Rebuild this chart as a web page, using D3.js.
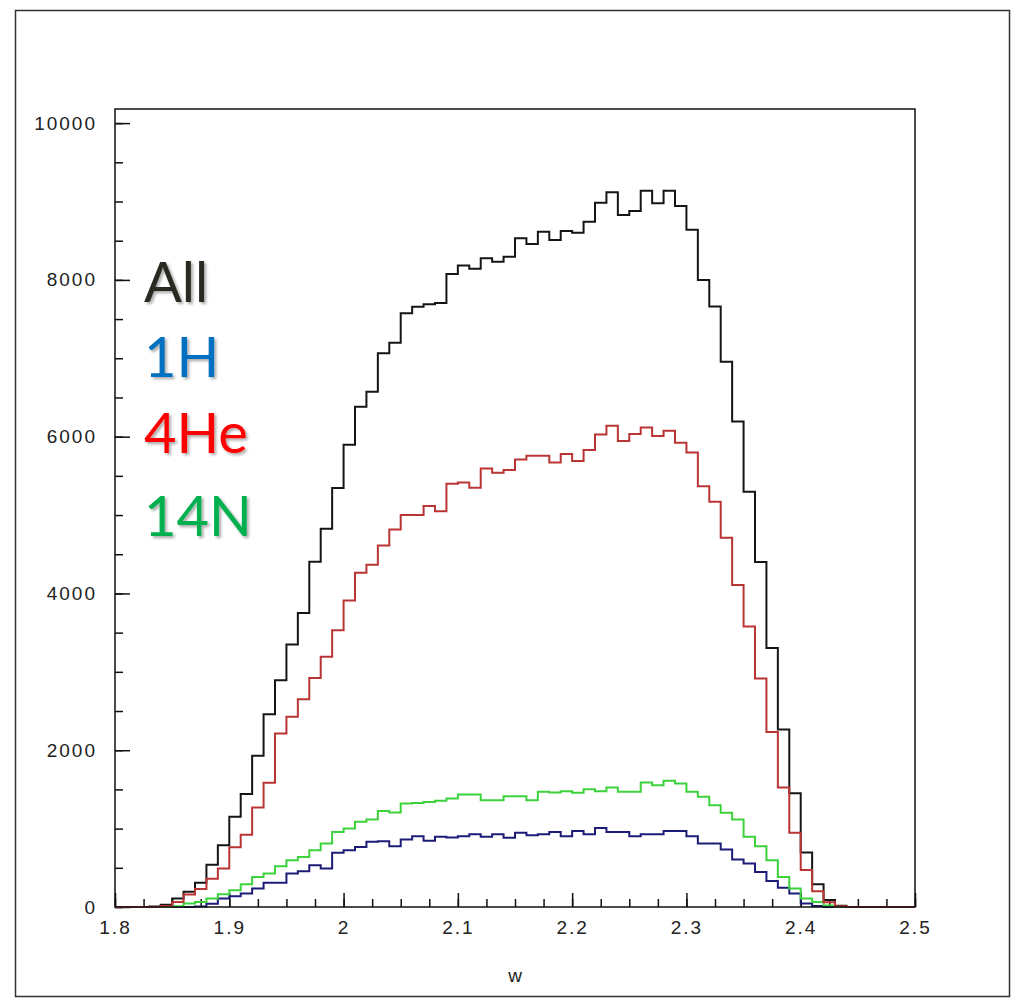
<!DOCTYPE html>
<html lang="en">
<head>
<meta charset="UTF-8">
<title>w distribution</title>
<script src="https://d3js.org/d3.v7.min.js"></script>
<style>
  body { margin: 0; background: #fff; }
  .tick text { font-family: "Liberation Sans", Arial, sans-serif; font-size: 19px; letter-spacing: 2px; fill: #222; }
</style>
</head>
<body>
<div id="chart"></div>
<script>
// bins: 70 bins of width 0.01 between 1.8 and 2.5 (left edges)
var binStart = 1.8;
var binWidth = 0.01;

// counts per bin
var allCounts = [0, 0, 0, 5, 30, 108, 193, 310, 538, 788,
    1150, 1440, 1928, 2460, 2894, 3350, 3750, 4404, 4825, 5345,
    5898, 6381, 6573, 7063, 7198, 7573, 7658, 7688, 7705, 8075,
    8185, 8142, 8275, 8232, 8296, 8530, 8457, 8615, 8508, 8623,
    8602, 8742, 8985, 9117, 8827, 8878, 9138, 8977, 9138, 8942,
    8640, 7998, 7662, 6955, 6192, 5297, 4400, 3305, 2265, 1450,
    695, 290, 90, 15, 0, 0, 0, 0, 0, 0];

var he4Counts = [0, 0, 0, 0, 12, 65, 160, 230, 360, 491,
    763, 922, 1270, 1586, 2213, 2426, 2650, 2920, 3191, 3532,
    3910, 4265, 4365, 4612, 4817, 5000, 5000, 5114, 5050, 5400,
    5416, 5348, 5595, 5539, 5574, 5710, 5756, 5756, 5672, 5778,
    5688, 5829, 6029, 6139, 5944, 6033, 6118, 6007, 6075, 5922,
    5799, 5369, 5169, 4709, 4109, 3577, 2914, 2234, 1523, 948,
    472, 200, 60, 10, 0, 0, 0, 0, 0, 0];

var n14Counts = [0, 0, 0, 0, 0, 10, 45, 65, 108, 163,
    214, 291, 384, 427, 521, 597, 639, 725, 810, 958,
    1001, 1086, 1116, 1226, 1205, 1320, 1328, 1341, 1354, 1384,
    1435, 1435, 1362, 1362, 1414, 1414, 1362, 1469, 1460, 1478,
    1456, 1503, 1478, 1525, 1469, 1469, 1588, 1554, 1609, 1575,
    1469, 1405, 1299, 1201, 1116, 895, 776, 597, 384, 236,
    108, 65, 20, 0, 0, 0, 0, 0, 0, 0];

var h1Counts = [0, 0, 0, 0, 0, 0, 0, 5, 40, 108,
    138, 172, 236, 308, 308, 427, 457, 533, 491, 691,
    725, 767, 831, 840, 776, 861, 903, 844, 895, 887,
    903, 929, 895, 929, 882, 946, 916, 929, 958, 903,
    971, 929, 1009, 958, 958, 903, 929, 929, 971, 971,
    903, 810, 810, 733, 606, 555, 448, 333, 244, 172,
    45, 14, 0, 0, 0, 0, 0, 0, 0, 0];

// axis ticks and labels
var xTicks = [1.8, 1.9, 2.0, 2.1, 2.2, 2.3, 2.4, 2.5];
var xTickLabels = ["1.8", "1.9", "2", "2.1", "2.2", "2.3", "2.4", "2.5"];
var yTicks = [0, 2000, 4000, 6000, 8000, 10000];
var yTickLabels = ["0", "2000", "4000", "6000", "8000", "10000"];

// legend
var legendNames = ["All", "1H", "4He", "14N"];
var legendColors = ["#2b2a22", "#0070c0", "#ff0000", "#00b050"];

// plot box
var margin = {top: 109, left: 115};
var width = 800;
var height = 798;

var svg = d3.select("#chart")
    .append("svg")
    .attr("width", 1021)
    .attr("height", 1003);

svg.append("rect")
    .attr("width", 1021).attr("height", 1003)
    .attr("fill", "#fff");

// outer frame of the canvas
svg.append("rect")
    .attr("x", 15.5).attr("y", 10.5)
    .attr("width", 994).attr("height", 986)
    .attr("fill", "none")
    .attr("stroke", "#333")
    .attr("stroke-width", 1.5);

var defs = svg.append("defs");
var shadow = defs.append("filter").attr("id", "shadow")
    .attr("x", "-20%").attr("y", "-20%").attr("width", "140%").attr("height", "140%");
shadow.append("feDropShadow")
    .attr("dx", 2).attr("dy", 2).attr("stdDeviation", 1.5)
    .attr("flood-color", "#000").attr("flood-opacity", 0.35);

var g = svg.append("g")
    .attr("transform", "translate(" + margin.left + "," + margin.top + ")");

var x = d3.scaleLinear()
    .domain([1.8, 2.5])
    .range([0, width]);

var y = d3.scaleLinear()
    .domain([0, 10180])
    .range([height, 0]);

// minor ticks first
g.append("g")
    .attr("transform", "translate(0," + height + ")")
    .call(d3.axisBottom(x).tickValues(d3.range(0, 29).map(function (i) { return 1.8 + i * 0.025; }))
        .tickSize(-8).tickFormat(""))
    .call(function (a) { a.select(".domain").remove(); });

g.append("g")
    .call(d3.axisLeft(y).tickValues(d3.range(0, 21).map(function (i) { return i * 500; }))
        .tickSize(-8).tickFormat(""))
    .call(function (a) { a.select(".domain").remove(); });

// major ticks with labels
g.append("g")
    .attr("transform", "translate(0," + height + ")")
    .call(d3.axisBottom(x).tickValues(xTicks)
        .tickSize(-14).tickPadding(14)
        .tickFormat(function (d, i) { return xTickLabels[i]; }))
    .call(function (a) { a.select(".domain").remove(); });

g.append("g")
    .call(d3.axisLeft(y).tickValues(yTicks)
        .tickSize(-15).tickPadding(18)
        .tickFormat(function (d, i) { return yTickLabels[i]; }))
    .call(function (a) { a.select(".domain").remove(); });

g.selectAll(".tick line").attr("stroke", "#111").attr("stroke-width", 1.5);

// step outline for a histogram
function histPath(counts) {
    var pts = counts.map(function (c, i) { return [binStart + i * binWidth, c]; });
    pts.push([binStart + counts.length * binWidth, counts[counts.length - 1]]);
    return d3.line()
        .x(function (d) { return x(d[0]); })
        .y(function (d) { return y(d[1]); })
        .curve(d3.curveStepAfter)(pts);
}

var series = [
    {counts: allCounts, color: "#151515"},
    {counts: h1Counts, color: "#1c1c78"},
    {counts: n14Counts, color: "#3cd23c"},
    {counts: he4Counts, color: "#bb3434"}
];

g.selectAll("path.hist")
    .data(series)
    .enter()
    .append("path")
    .attr("class", "hist")
    .attr("d", function (d) { return histPath(d.counts); })
    .attr("fill", "none")
    .attr("stroke", function (d) { return d.color; })
    .attr("stroke-width", 2);

// frame of the plot
g.append("rect")
    .attr("width", width).attr("height", height)
    .attr("fill", "none")
    .attr("stroke", "#111")
    .attr("stroke-width", 1.5);

// x axis title
svg.append("text")
    .attr("x", 515).attr("y", 982)
    .attr("text-anchor", "middle")
    .style("font-family", "Liberation Sans, Arial, sans-serif")
    .style("font-size", "19px")
    .attr("fill", "#222")
    .text("w");

// legend text
var legendBase = [302, 377, 453, 536];
svg.selectAll("text.legend")
    .data(legendNames)
    .enter()
    .append("text")
    .attr("class", "legend")
    .attr("x", 144)
    .attr("y", function (d, i) { return legendBase[i]; })
    .attr("fill", function (d, i) { return legendColors[i]; })
    .attr("filter", "url(#shadow)")
    .style("font-family", "Lato, 'Open Sans', sans-serif")
    .style("font-size", "56px")
    .text(function (d) { return d; });
</script>
</body>
</html>
